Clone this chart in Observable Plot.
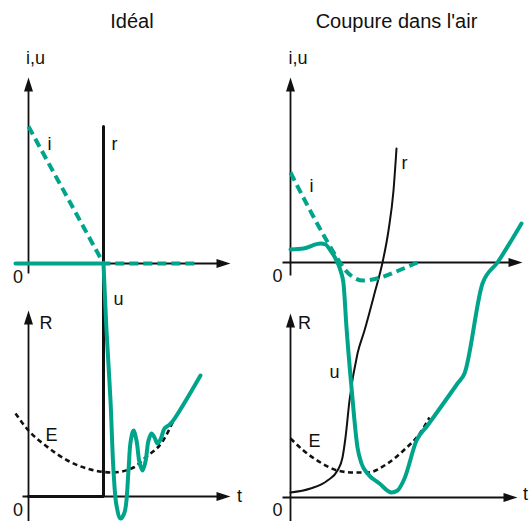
<!DOCTYPE html>
<html><head><meta charset="utf-8">
<script src="https://cdn.jsdelivr.net/npm/d3@7"></script>
<script src="https://cdn.jsdelivr.net/npm/@observablehq/plot@0.6"></script>
<style>
body{margin:0;background:#fff;font-family:"Liberation Sans",Arial,sans-serif;color:#111;}
#wrap{width:529px;}
.titles{display:flex;height:40px;}
.titles div{text-align:center;font-size:20px;line-height:42px;height:40px;}
.charts{display:flex;}
.charts svg{display:block;}
</style></head><body>
<div id="wrap">
<div class="titles"><div style="width:264px">Idéal</div><div style="width:265px">Coupure dans l'air</div></div>
<div class="charts" id="charts"></div>
</div>
<script>
// ---------- titles ----------
const titles = ["Idéal", "Coupure dans l'air"];

// ---------- LEFT panel ("Idéal") : t = time, v = level ----------
const leftAxes = [
  {t1: 0, v1: -1.0, t2: 0, v2: 18.6, tip: "up"},
  {t1: -1.3, v1: 0, t2: 20.2, v2: 0, tip: "right"},
  {t1: 0, v1: -25.8, t2: 0, v2: -4.7, tip: "up"},
  {t1: -0.6, v1: -23.3, t2: 20.2, v2: -23.3, tip: "right"}
];
const leftCurrent = [{t: 0, v: 13.7}, {t: 7.5, v: 0}, {t: 16.9, v: 0}];
const leftVoltageFlat = [{t: -1.3, v: 0}, {t: 7.5, v: 0}];
const leftVoltage = [
  {t: 7.5, v: 0}, {t: 7.8, v: -6.7}, {t: 8.2, v: -13.7}, {t: 8.5, v: -20.7},
  {t: 8.8, v: -24.2}, {t: 9.2, v: -25.5}, {t: 9.6, v: -24.9},
  {t: 10.0, v: -20.7}, {t: 10.2, v: -17.9}, {t: 10.5, v: -16.7}, {t: 10.8, v: -17.7},
  {t: 11.1, v: -19.9}, {t: 11.4, v: -20.7}, {t: 11.7, v: -19.8}, {t: 12.0, v: -17.7},
  {t: 12.3, v: -17.0}, {t: 12.6, v: -17.4}, {t: 12.9, v: -18.0}, {t: 13.2, v: -17.6},
  {t: 13.6, v: -16.5}, {t: 14.0, v: -16.2}, {t: 14.4, v: -15.8}, {t: 17.2, v: -11.2}
];
const leftResistance = [{t: 0, v: -23.3}, {t: 7.5, v: -23.3}, {t: 7.5, v: 13.7}];
const leftEnergy = [
  {t: -1.3, v: -15.0}, {t: 0, v: -16.7}, {t: 1.7, v: -18.2}, {t: 3.9, v: -19.7},
  {t: 6.2, v: -20.6}, {t: 8.4, v: -20.9}, {t: 10.5, v: -20.4}, {t: 11.7, v: -19.4},
  {t: 13.4, v: -17.8}, {t: 14.6, v: -15.5}
];
const leftLabels = [
  {t: 0.7, v: 20.5, text: "i,u"}, {t: 2.1, v: 11.9, text: "i"}, {t: 8.6, v: 11.9, text: "r"},
  {t: -1.05, v: -1.4, text: "0"}, {t: 9.0, v: -3.6, text: "u"}, {t: 1.75, v: -5.95, text: "R"},
  {t: 2.3, v: -17.15, text: "E"}, {t: -1.05, v: -24.7, text: "0"}, {t: 21.1, v: -23.3, text: "t"}
];

// ---------- RIGHT panel ("Coupure dans l'air") ----------
const rightAxes = [
  {t1: 0, v1: -1.3, t2: 0, v2: 18.5, tip: "up"},
  {t1: -0.8, v1: 0, t2: 23.2, v2: 0, tip: "right"},
  {t1: 0, v1: -25.9, t2: 0, v2: -5.1, tip: "up"},
  {t1: -0.8, v1: -23.5, t2: 22.7, v2: -23.5, tip: "right"}
];
const rightCurrent = [
  {t: 0, v: 9.0}, {t: 3.5, v: 2.4}, {t: 4.5, v: 0.7}, {t: 5.7, v: -1.0},
  {t: 7.3, v: -1.8}, {t: 9.0, v: -1.5}, {t: 11.3, v: -0.6}, {t: 12.7, v: 0}
];
const rightVoltage = [
  {t: 0, v: 1.3}, {t: 1.3, v: 1.4}, {t: 3.0, v: 1.9}, {t: 3.5, v: 1.8}, {t: 4.0, v: 1.2},
  {t: 4.5, v: 0.4}, {t: 5.0, v: -0.8}, {t: 5.3, v: -2.1}, {t: 5.6, v: -6.5}, {t: 6.1, v: -12.5},
  {t: 6.7, v: -18.5}, {t: 7.1, v: -20.1}, {t: 7.7, v: -21.1}, {t: 8.9, v: -22.1}, {t: 10.1, v: -23.0},
  {t: 10.7, v: -22.8}, {t: 11.4, v: -21.6}, {t: 12.6, v: -17.8}, {t: 13.7, v: -16.3}, {t: 16.7, v: -12.1},
  {t: 17.4, v: -11.1}, {t: 19.2, v: -2.1}, {t: 20.7, v: 0}, {t: 23.1, v: 3.9}
];
const rightResistance = [
  {t: 0, v: -23.0}, {t: 2.0, v: -22.6}, {t: 3.7, v: -21.8}, {t: 4.7, v: -20.8}, {t: 5.2, v: -19.5},
  {t: 5.5, v: -17.5}, {t: 5.9, v: -13.8}, {t: 6.7, v: -9.1}, {t: 7.4, v: -6.8}, {t: 8.4, v: -3.1},
  {t: 9.2, v: 0}, {t: 9.8, v: 3.2}, {t: 10.3, v: 7.2}, {t: 10.6, v: 11.4}
];
const rightEnergy = [
  {t: 0, v: -17.6}, {t: 1.3, v: -18.8}, {t: 3.0, v: -20.0}, {t: 4.7, v: -20.8}, {t: 6.3, v: -21.0},
  {t: 7.7, v: -21.0}, {t: 9.7, v: -20.1}, {t: 11.3, v: -18.8}, {t: 13.0, v: -17.0}, {t: 13.9, v: -15.5}
];
const rightLabels = [
  {t: 0.75, v: 20.4, text: "i,u"}, {t: 2.1, v: 7.6, text: "i"}, {t: 11.4, v: 9.9, text: "r"},
  {t: -1.3, v: -1.4, text: "0"}, {t: 4.4, v: -11.0, text: "u"}, {t: 1.4, v: -6.05, text: "R"},
  {t: 2.4, v: -17.85, text: "E"}, {t: -1.3, v: -24.8, text: "0"}, {t: 23.5, v: -23.2, text: "t"}
];

// ---------- drawing ----------
const GREEN = "#00a48b";
const INK = "#111";
const FONT = "Liberation Sans, Arial, sans-serif";
const arrowUp = {draw(ctx) { ctx.moveTo(0, 0); ctx.lineTo(4.5, 14); ctx.lineTo(-4.5, 14); ctx.closePath(); }};
const arrowRight = {draw(ctx) { ctx.moveTo(0, 0); ctx.lineTo(-14, -4.5); ctx.lineTo(-14, 4.5); ctx.closePath(); }};

function panel({width, xDomain, yDomain, axes, current, flat, voltage, vCurve, resistance, rWidth, energy, labels}) {
  const tips = axes.map(a => ({t: a.t2, v: a.v2, tip: a.tip}));
  const marks = [
    Plot.link(axes, {x1: "t1", y1: "v1", x2: d => d.tip === "right" ? d.t2 - 0.6 : d.t2, y2: d => d.tip === "up" ? d.v2 - 0.6 : d.v2, stroke: INK, strokeWidth: 1.8}),
    Plot.dot(tips.filter(d => d.tip === "up"), {x: "t", y: "v", symbol: arrowUp, fill: INK, stroke: "none", r: 5}),
    Plot.dot(tips.filter(d => d.tip === "right"), {x: "t", y: "v", symbol: arrowRight, fill: INK, stroke: "none", r: 5}),
    Plot.line(energy, {x: "t", y: "v", curve: "monotone-x", stroke: INK, strokeWidth: 2.6, strokeDasharray: "5,3.5", strokeLinecap: "butt"}),
    Plot.line(resistance, {x: "t", y: "v", curve: resistance.length > 3 ? "monotone-x" : "linear", stroke: INK, strokeWidth: rWidth, strokeLinejoin: "miter"}),
    Plot.line(current, {x: "t", y: "v", curve: current.length > 3 ? "monotone-x" : "linear", stroke: GREEN, strokeWidth: 4, strokeDasharray: "9,5", strokeLinecap: "butt", strokeLinejoin: "round"})
  ];
  if (flat) marks.push(Plot.line(flat, {x: "t", y: "v", stroke: GREEN, strokeWidth: 4}));
  marks.push(
    Plot.line(voltage, {x: "t", y: "v", curve: vCurve, stroke: GREEN, strokeWidth: 4, strokeLinejoin: "round"}),
    Plot.text(labels, {x: "t", y: "v", text: "text", fontSize: 18, fontFamily: FONT, fill: INK})
  );
  return Plot.plot({
    width, height: 481, margin: 0,
    x: {domain: xDomain, axis: null},
    y: {domain: yDomain, axis: null},
    style: {fontFamily: FONT, background: "white", overflow: "visible"},
    marks
  });
}

const host = document.getElementById("charts");
host.append(panel({width: 264, xDomain: [-2.8, 23.6], yDomain: [-25.8, 22.3], axes: leftAxes,
  current: leftCurrent, flat: leftVoltageFlat, voltage: leftVoltage, vCurve: "catmull-rom", resistance: leftResistance, rWidth: 3,
  energy: leftEnergy, labels: leftLabels}));
host.append(panel({width: 265, xDomain: [-2.6, 23.9], yDomain: [-25.9, 22.2], axes: rightAxes,
  current: rightCurrent, flat: null, voltage: rightVoltage, vCurve: "monotone-x", resistance: rightResistance, rWidth: 2,
  energy: rightEnergy, labels: rightLabels}));
</script>
</body></html>
